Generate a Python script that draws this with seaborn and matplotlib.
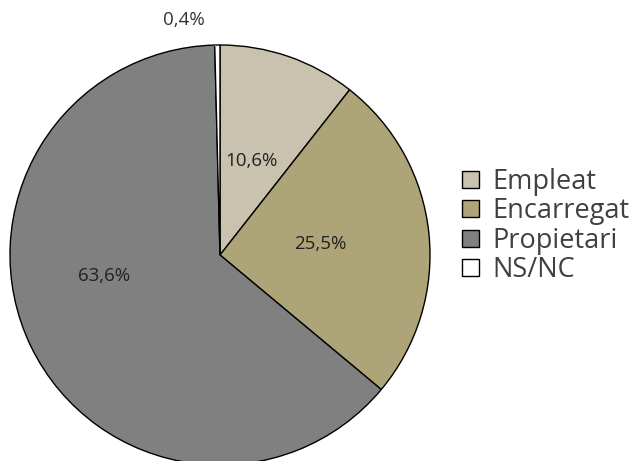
import matplotlib
matplotlib.use('Agg')
from matplotlib import pyplot as plt
import seaborn as sns

sns.set_style('white')
plt.rcParams['font.family'] = ['Open Sans', 'DejaVu Sans']

# data
categories = ['Empleat', 'Encarregat', 'Propietari', 'NS/NC']
values = [10.6, 25.5, 63.6, 0.4]
colors = sns.color_palette(['#c9c2ae', '#ada477', '#808080', '#ffffff'])

fig = plt.figure(figsize=(6.39, 4.61), dpi=100)
ax = fig.add_axes([10 / 639, -4 / 461, 420 / 639, 420 / 461])

wedges, texts, autotexts = ax.pie(
    values, colors=colors, startangle=90, counterclock=False,
    autopct='%.1f', pctdistance=0.48,
    wedgeprops=dict(edgecolor='black', linewidth=1),
    textprops=dict(fontsize=13.5, color='#222222'))

# labels show the published percentages
for t, v in zip(autotexts, values):
    t.set_text(('%.1f%%' % v).replace('.', ','))

# hand-placed labels as in the original
autotexts[0].set_position((0.15, 0.45))
autotexts[2].set_position((-0.55, -0.10))
autotexts[3].set_position((-0.17, 1.12))
autotexts[3].set_color('#333333')
ax.plot([-0.05, -0.02], [1.06, 0.99], color='#999999', linewidth=0.8)

ax.set_xlim(-1, 1)
ax.set_ylim(-1, 1)
ax.set_aspect('equal')
ax.axis('off')

fig.legend(wedges, categories, loc='center left', bbox_to_anchor=(438 / 639, 1 - 226 / 461),
           frameon=False, fontsize=19.5, handlelength=0.6, handleheight=0.6,
           handletextpad=0.5, labelspacing=0.05, labelcolor='#404040')

fig.savefig('out.png', dpi=100, facecolor='white')
